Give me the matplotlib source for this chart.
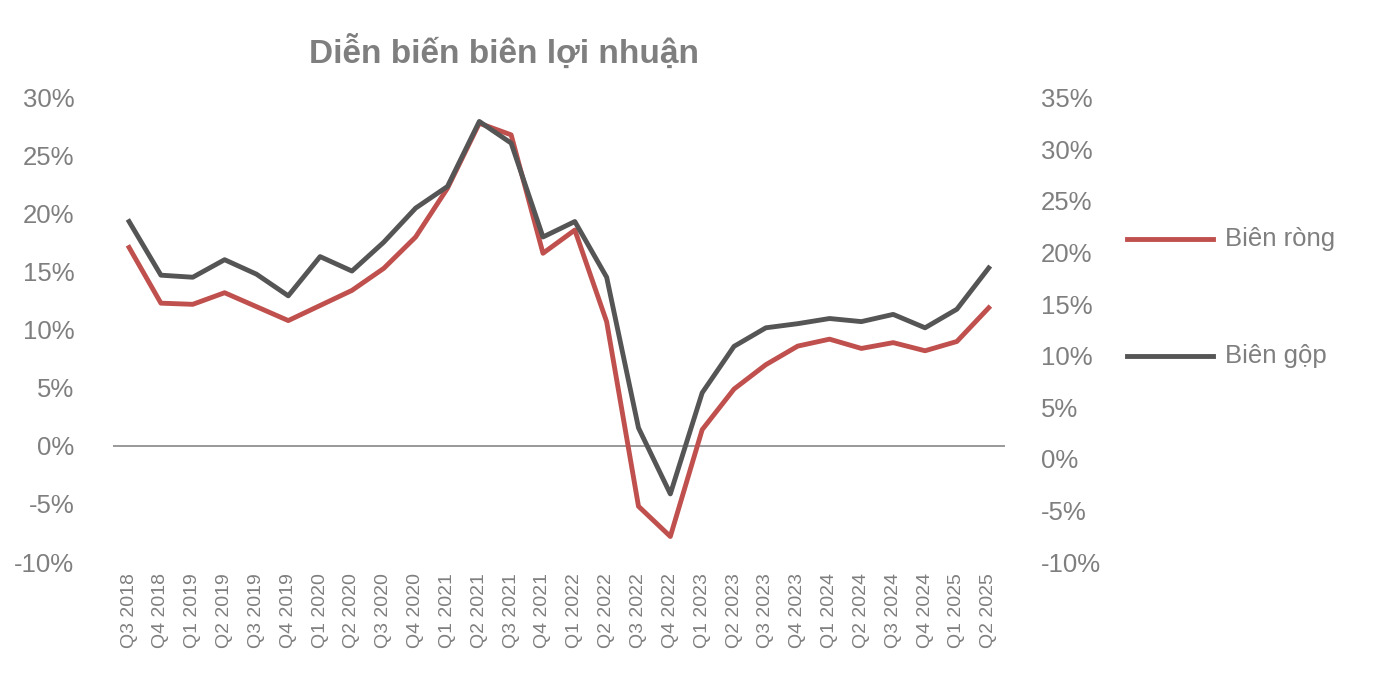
import matplotlib.pyplot as plt
from matplotlib.lines import Line2D
from matplotlib.ticker import FuncFormatter, MultipleLocator

plt.rcParams['font.family'] = ['Liberation Sans', 'DejaVu Sans']

quarters = ["Q3 2018", "Q4 2018", "Q1 2019", "Q2 2019", "Q3 2019", "Q4 2019",
            "Q1 2020", "Q2 2020", "Q3 2020", "Q4 2020", "Q1 2021", "Q2 2021",
            "Q3 2021", "Q4 2021", "Q1 2022", "Q2 2022", "Q3 2022", "Q4 2022",
            "Q1 2023", "Q2 2023", "Q3 2023", "Q4 2023", "Q1 2024", "Q2 2024",
            "Q3 2024", "Q4 2024", "Q1 2025", "Q2 2025"]
bien_rong = [17.1, 12.3, 12.2, 13.2, 12.0, 10.8, 12.1, 13.4, 15.3, 18.0, 22.2, 27.8,
             26.8, 16.6, 18.6, 10.7, -5.2, -7.8, 1.4, 4.9, 7.0, 8.6, 9.2, 8.4,
             8.9, 8.2, 9.0, 11.9]
bien_gop = [23.0, 17.8, 17.6, 19.3, 17.9, 15.8, 19.6, 18.2, 21.0, 24.3, 26.4, 32.7,
            30.6, 21.5, 23.0, 17.6, 3.0, -3.4, 6.4, 10.9, 12.7, 13.1, 13.6, 13.3,
            14.0, 12.7, 14.5, 18.5]

RED = "#C0504D"
DARK = "#555555"
TXT = "#7F7F7F"

fig = plt.figure(figsize=(13.8, 6.93), dpi=100)
ax = fig.add_axes([0.082, 0.189, 0.646, 0.670])
ax2 = ax.twinx()

x = list(range(len(quarters)))
ax.plot(x, bien_rong, color=RED, lw=3.5, zorder=3)
ax2.plot(x, bien_gop, color=DARK, lw=3.5, zorder=3)
ax.axhline(0, color="#888888", lw=1.2, zorder=1)

ax.set_ylim(-10, 30)
ax2.set_ylim(-10, 35)
ax.yaxis.set_major_locator(MultipleLocator(5))
ax2.yaxis.set_major_locator(MultipleLocator(5))
pct = FuncFormatter(lambda v, p: f"{v:.0f}%")
ax.yaxis.set_major_formatter(pct)
ax2.yaxis.set_major_formatter(pct)
ax.set_xlim(-0.5, len(quarters) - 0.5)
ax.set_xticks(x)
ax.set_xticklabels(quarters, rotation=90)

for a in (ax, ax2):
    for s in a.spines.values():
        s.set_visible(False)
    a.tick_params(length=0, colors=TXT, labelsize=18.5)
ax.tick_params(axis='y', pad=28)
ax2.tick_params(axis='y', pad=26)
ax.tick_params(axis='x', labelsize=14, pad=8)

fig.text(0.365, 0.925, "Diễn biến biên lợi nhuận", ha='center', va='center',
         fontsize=24, fontweight='bold', color=TXT)

for yy, lab, col in [(0.655, "Biên ròng", RED), (0.487, "Biên gộp", DARK)]:
    fig.add_artist(Line2D([0.817, 0.879], [yy, yy], color=col, lw=3.5))
    fig.text(0.888, yy, lab, fontsize=18.5, color=TXT, va='center')

fig.savefig("out.png", dpi=100)
